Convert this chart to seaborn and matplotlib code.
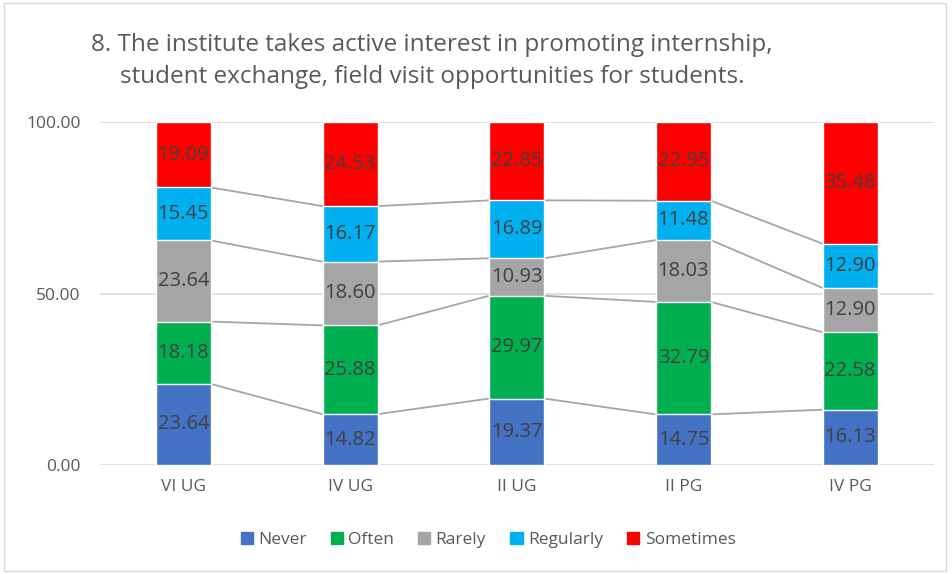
import numpy as np
import pandas as pd
import matplotlib
matplotlib.use("Agg")
import matplotlib.pyplot as plt
from matplotlib.patches import Patch, Rectangle
import seaborn as sns

# Data

categories = ["VI UG", "IV UG", "II UG", "II PG", "IV PG"]
series = ["Never", "Often", "Rarely", "Regularly", "Sometimes"]
never = [23.64, 14.82, 19.37, 14.75, 16.13]
often = [18.18, 25.88, 29.97, 32.79, 22.58]
rarely = [23.64, 18.60, 10.93, 18.03, 12.90]
regularly = [15.45, 16.17, 16.89, 11.48, 12.90]
sometimes = [19.09, 24.53, 22.85, 22.95, 35.48]
yticks = [0, 50, 100]
title = "8. The institute takes active interest in promoting internship,\nstudent exchange, field visit opportunities for students."

colors = ["#4472C4", "#00B050", "#A5A5A5", "#00B0F0", "#FF0000"]

values = np.array([never, often, rarely, regularly, sometimes])
cum = np.cumsum(values, axis=0)

sns.set_style("white")
plt.rcParams["font.family"] = ["Open Sans", "DejaVu Sans"]

fig = plt.figure(figsize=(9.52, 5.74), dpi=100)
ax = fig.add_axes([100 / 952, 109 / 574, 833.5 / 952, 343 / 574])

# stacked bars: draw tallest cumulative first, each layer covers the one below
bw = 0.33
for k in range(len(series) - 1, -1, -1):
    df = pd.DataFrame({"cat": categories, "val": np.minimum(cum[k], 100)})
    sns.barplot(data=df, x="cat", y="val", order=categories, color=colors[k],
                width=bw, saturation=1, ax=ax, zorder=2)

# series lines between bars
for k in range(len(series) - 1):
    for i in range(len(categories) - 1):
        ax.plot([i + bw / 2, i + 1 - bw / 2], [cum[k][i], cum[k][i + 1]],
                color="#A5A5A5", lw=1.3, zorder=1)

# value labels
for k in range(len(series)):
    for i in range(len(categories)):
        y = cum[k][i] - values[k][i] / 2
        ax.text(i, y, f"{values[k][i]:.2f}", ha="center", va="center",
                fontsize=14.5, color="#404040", zorder=3)

ax.set_ylim(0, 100)
ax.set_xlim(-0.5, len(categories) - 0.5)
ax.set_yticks(yticks)
ax.set_yticklabels([f"{t:.2f}" for t in yticks])
ax.yaxis.grid(True, color="#D9D9D9", lw=1.2, zorder=0)
ax.set_axisbelow(True)
for s in ax.spines.values():
    s.set_visible(False)
ax.tick_params(axis="both", length=0, labelsize=12.5, colors="#595959")
ax.tick_params(axis="y", pad=14)
ax.tick_params(axis="x", pad=10)
ax.set_xlabel("")
ax.set_ylabel("")

fig.text(432 / 952, 1 - 61 / 574, title, ha="center", va="center",
         fontsize=17.5, color="#595959", linespacing=1.45)

handles = [Patch(color=c, label=s) for c, s in zip(colors, series)]
fig.legend(handles=handles, loc="center", bbox_to_anchor=(488 / 952, 1 - 540 / 574),
           ncol=5, frameon=False, fontsize=12.5, handlelength=0.7, handleheight=0.7,
           handletextpad=0.3, columnspacing=1.4, labelcolor="#595959")

fig.patches.append(Rectangle((0.004, 0.006), 0.99, 0.988, transform=fig.transFigure,
                             fill=False, edgecolor="#D9D9D9", lw=1))

fig.savefig("out.png", dpi=100)
